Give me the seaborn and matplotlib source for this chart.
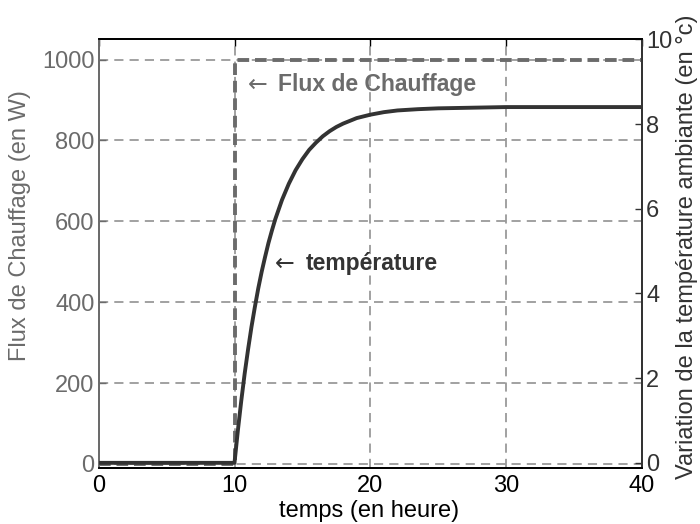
import numpy as np
import pandas as pd
import matplotlib
matplotlib.use('Agg')
import matplotlib.pyplot as plt
import seaborn as sns

# donnees
temps_flux = [0, 10, 10, 40]
flux = [0, 0, 1000, 1000]

temps_temp = [0, 10, 10.25, 10.5, 10.75, 11, 11.25, 11.5, 11.75, 12, 12.25, 12.5, 12.75, 13,
              13.5, 14, 14.5, 15, 15.5, 16, 16.5, 17, 17.5, 18, 19, 20, 21, 22, 23.5, 25, 30, 40]
temperature = [0, 0, 0.77, 1.47, 2.11, 2.68, 3.21, 3.68, 4.12, 4.51, 4.86, 5.19, 5.48, 5.75,
               6.21, 6.59, 6.91, 7.17, 7.39, 7.56, 7.71, 7.83, 7.93, 8.01, 8.14, 8.22, 8.28, 8.32, 8.35, 8.37, 8.40, 8.40]

xticks = [0, 10, 20, 30, 40]
yticks_flux = [0, 200, 400, 600, 800, 1000]
yticks_temp = [0, 2, 4, 6, 8, 10]

df_flux = pd.DataFrame({'temps': temps_flux, 'flux': flux})
df_temp = pd.DataFrame({'temps': temps_temp, 'temp': temperature})

sns.set_style('white')
plt.rcParams['font.family'] = ['Liberation Sans', 'DejaVu Sans']

gris = '#6b6b6b'
fonce = '#333333'

fig, ax = plt.subplots(figsize=(7, 5.24), dpi=100)
fig.subplots_adjust(left=0.141, right=0.917, top=0.925, bottom=0.107)
ax2 = ax.twinx()

sns.lineplot(data=df_flux, x='temps', y='flux', ax=ax, color=gris, lw=2.8,
             linestyle=(0, (3, 1.5)), estimator=None, sort=False, zorder=3)
sns.lineplot(data=df_temp, x='temps', y='temp', ax=ax2, color=fonce, lw=2.8,
             estimator=None, sort=False, zorder=4)

ax.set_xlim(0, 40)
ax.set_ylim(-10, 1050)
ax2.set_ylim(-0.12, 10)
ax.set_xticks(xticks)
ax.set_yticks(yticks_flux)
ax2.set_yticks(yticks_temp)

ax.grid(True, color='#888888', linestyle=(0, (6, 4)), lw=1.1)
ax2.grid(False)
ax.set_axisbelow(True)

ax.tick_params(axis='x', colors='black', labelsize=17, direction='in', length=5, width=1, top=True, pad=5)
ax.tick_params(axis='y', colors=gris, labelsize=17, direction='in', length=5, width=1, pad=3)
ax2.tick_params(axis='y', colors=fonce, labelsize=17, direction='in', length=5, width=1, pad=3)

ax.set_xlabel('temps (en heure)', fontsize=17, color='black')
ax.set_ylabel('Flux de Chauffage (en W)', fontsize=17, color=gris)
ax2.set_ylabel('Variation de la température ambiante (en °c)', fontsize=17, color=fonce)
ax.xaxis.set_label_coords(0.497, -0.1)
ax.yaxis.set_label_coords(-0.145, 0.565)
ax2.yaxis.set_label_coords(1.083, 0.516)
ax.xaxis.label.set_va('center')
ax.yaxis.label.set_va('center')
ax2.yaxis.label.set_va('center')

for a in (ax, ax2):
    a.spines['top'].set_color('black')
    a.spines['bottom'].set_color('black')
    a.spines['left'].set_color(gris)
    a.spines['right'].set_color(fonce)
    for s in a.spines.values():
        s.set_linewidth(1.3)

# annotations : fleche puis texte
ax2.text(10.95, 8.93, '←', color=gris, fontsize=17, family='DejaVu Sans',
         va='center', ha='left')
ax2.text(13.2, 8.93, 'Flux de Chauffage', color=gris, fontsize=16.5,
         fontweight='bold', va='center', ha='left')
ax2.text(13.0, 4.7, '←', color=fonce, fontsize=17, family='DejaVu Sans',
         va='center', ha='left')
ax2.text(15.25, 4.7, 'température', color=fonce, fontsize=16.5,
         fontweight='bold', va='center', ha='left')

ax2.set_zorder(ax.get_zorder() + 1)
ax2.patch.set_visible(False)

fig.savefig('out.png', dpi=100)
